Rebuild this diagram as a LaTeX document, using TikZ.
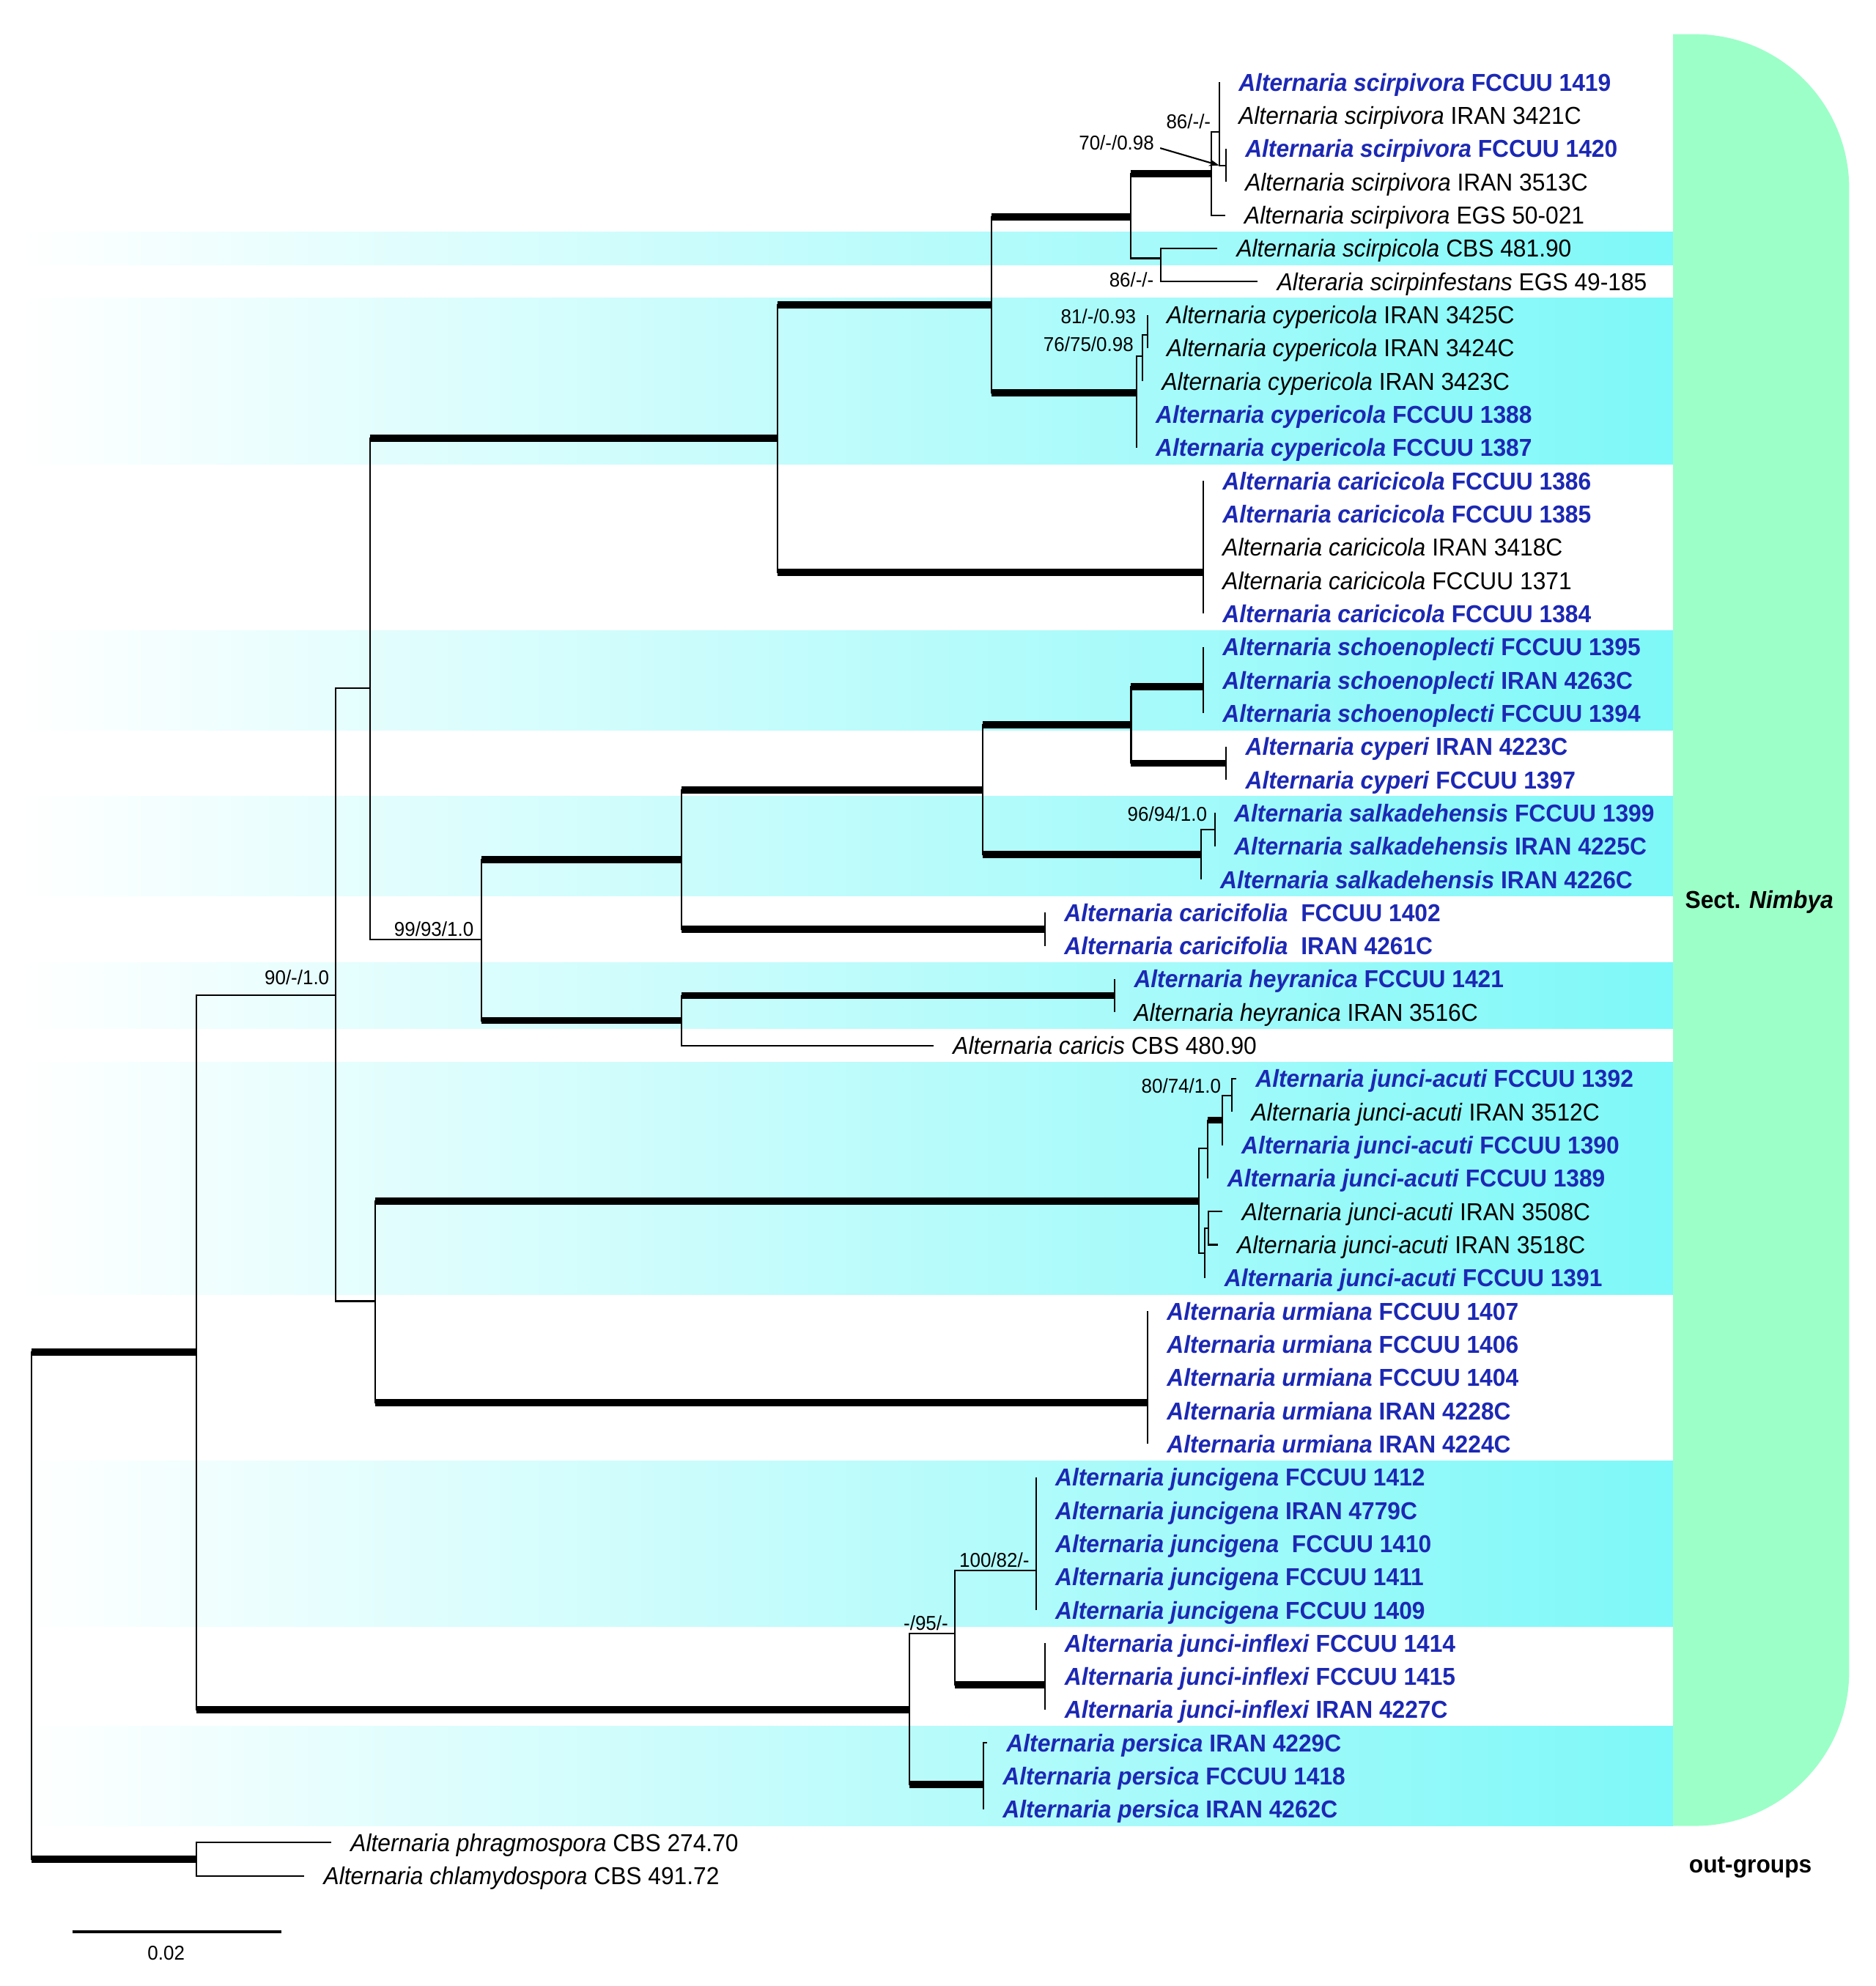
\documentclass[tikz,border=0pt]{standalone}
\usepackage{fontspec}
\setmainfont{Liberation Sans}[FakeStretch=0.95]
\usetikzlibrary{arrows.meta}

\definecolor{taxblue}{HTML}{1C28B4}
\definecolor{bandcyan}{HTML}{7EF8F8}
\definecolor{sectgreen}{HTML}{9CFFC8}

\newcommand{\alsp}[2]{\textit{Alternaria #1} #2}

\tikzset{
  br/.style={line width=0.7pt},
  thk/.style={line width=3.2pt},
  leaf/.style={anchor=west, inner xsep=3mm, inner ysep=0pt, text height=7.9pt, text depth=0pt, font=\fontsize{11}{13}\selectfont},
  novel/.style={leaf, text=taxblue, font=\fontsize{11}{13}\selectfont\bfseries},
  bs/.style={inner sep=1pt, font=\fontsize{9}{11}\selectfont},
  band/.style={left color=white, middle color=bandcyan!25, right color=bandcyan},
}

\begin{document}
\begin{tikzpicture}[x=0.2mm,y=-5.244mm]
\useasboundingbox (0,-1.479) rectangle (1481,58.32);

% bands
\shade[band] (15,5.5) rectangle (1321,6.5);
\shade[band] (15,7.5) rectangle (1321,12.5);
\shade[band] (15,17.5) rectangle (1321,20.5);
\shade[band] (15,22.5) rectangle (1321,25.5);
\shade[band] (15,27.5) rectangle (1321,29.5);
\shade[band] (15,30.5) rectangle (1321,37.5);
\shade[band] (15,42.5) rectangle (1321,47.5);
\shade[band] (15,50.5) rectangle (1321,53.5);

\begin{scope}
\clip (1321,-2) rectangle (1481,55);
\fill[sectgreen, rounded corners=24.4mm] (1150,-0.45) rectangle (1460,53.5);
\end{scope}

\node[font=\fontsize{11}{13}\selectfont\bfseries] (sect) at (1389,25.68) {Sect. \textit{Nimbya}};
\node[font=\fontsize{11}{13}\selectfont\bfseries] (outg) at (1382,54.74) {out-groups};

% inner nodes
\coordinate (root) at (25,46.87);
\coordinate (inn) at (155,39.24);
\coordinate (og) at (155,54.5);
\coordinate (mid) at (265,28.48);
\coordinate (jp) at (718,50);
\coordinate (up) at (292,19.25);
\coordinate (lo) at (296,37.7);
\coordinate (cl) at (614,11.72);
\coordinate (ms) at (380,26.8);
\coordinate (cs) at (783,7.7);
\coordinate (cc) at (950,15.75);
\coordinate (s0) at (892.5,5.05);
\coordinate (s1) at (956.2,3.75);
\coordinate (s2) at (962.6,2.5);
\coordinate (s3) at (967.8,3.5);
\coordinate (sc) at (916.7,6.3);
\coordinate (cy1) at (897.2,10.35);
\coordinate (cy2) at (902,9.25);
\coordinate (cy3) at (905.8,8.6);
\coordinate (sy) at (538,24.4);
\coordinate (hc) at (538,29.25);
\coordinate (sx) at (776,22.3);
\coordinate (cf) at (825,26.5);
\coordinate (sc2) at (893,20.35);
\coordinate (sch) at (950,19.2);
\coordinate (cyp) at (968,21.5);
\coordinate (sk1) at (948.1,24.25);
\coordinate (sk2) at (959.1,23.5);
\coordinate (hy) at (880,28.5);
\coordinate (ja1) at (946.6,34.68);
\coordinate (ja2) at (953.7,33.1);
\coordinate (ja3) at (964.9,32.25);
\coordinate (ja4) at (972.6,31.5);
\coordinate (ja5) at (951.4,36.25);
\coordinate (ja6) at (954.3,35.5);
\coordinate (ur) at (906,40.75);
\coordinate (jj) at (753.9,47.7);
\coordinate (jg) at (817.9,45.8);
\coordinate (ji) at (825.3,49.25);
\coordinate (pe) at (776.4,52.25);

% taxa
\node[novel] (l1) at (962.6,1) {\alsp{scirpivora}{FCCUU 1419}};
\node[leaf] (l2) at (962.6,2) {\alsp{scirpivora}{IRAN 3421C}};
\node[novel] (l3) at (967.8,3) {\alsp{scirpivora}{FCCUU 1420}};
\node[leaf] (l4) at (967.8,4) {\alsp{scirpivora}{IRAN 3513C}};
\node[leaf] (l5) at (967.2,5) {\alsp{scirpivora}{EGS 50-021}};
\node[leaf] (l6) at (961,6) {\alsp{scirpicola}{CBS 481.90}};
\node[leaf] (l7) at (993,7) {\textit{Alteraria scirpinfestans} EGS 49-185};
\node[leaf] (l8) at (905.8,8) {\alsp{cypericola}{IRAN 3425C}};
\node[leaf] (l9) at (905.8,9) {\alsp{cypericola}{IRAN 3424C}};
\node[leaf] (l10) at (902,10) {\alsp{cypericola}{IRAN 3423C}};
\node[novel] (l11) at (897.2,11) {\alsp{cypericola}{FCCUU 1388}};
\node[novel] (l12) at (897.2,12) {\alsp{cypericola}{FCCUU 1387}};
\node[novel] (l13) at (950,13) {\alsp{caricicola}{FCCUU 1386}};
\node[novel] (l14) at (950,14) {\alsp{caricicola}{FCCUU 1385}};
\node[leaf] (l15) at (950,15) {\alsp{caricicola}{IRAN 3418C}};
\node[leaf] (l16) at (950,16) {\alsp{caricicola}{FCCUU 1371}};
\node[novel] (l17) at (950,17) {\alsp{caricicola}{FCCUU 1384}};
\node[novel] (l18) at (950,18) {\alsp{schoenoplecti}{FCCUU 1395}};
\node[novel] (l19) at (950,19) {\alsp{schoenoplecti}{IRAN 4263C}};
\node[novel] (l20) at (950,20) {\alsp{schoenoplecti}{FCCUU 1394}};
\node[novel] (l21) at (968,21) {\alsp{cyperi}{IRAN 4223C}};
\node[novel] (l22) at (968,22) {\alsp{cyperi}{FCCUU 1397}};
\node[novel] (l23) at (959.1,23) {\alsp{salkadehensis}{FCCUU 1399}};
\node[novel] (l24) at (959.1,24) {\alsp{salkadehensis}{IRAN 4225C}};
\node[novel] (l25) at (948.1,25) {\alsp{salkadehensis}{IRAN 4226C}};
\node[novel] (l26) at (825,26) {\alsp{caricifolia}{~FCCUU 1402}};
\node[novel] (l27) at (825,27) {\alsp{caricifolia}{~IRAN 4261C}};
\node[novel] (l28) at (880,28) {\alsp{heyranica}{FCCUU 1421}};
\node[leaf] (l29) at (880,29) {\alsp{heyranica}{IRAN 3516C}};
\node[leaf] (l30) at (737,30) {\alsp{caricis}{CBS 480.90}};
\node[novel] (l31) at (976,31) {\alsp{junci-acuti}{FCCUU 1392}};
\node[leaf] (l32) at (972.6,32) {\alsp{junci-acuti}{IRAN 3512C}};
\node[novel] (l33) at (964.9,33) {\alsp{junci-acuti}{FCCUU 1390}};
\node[novel] (l34) at (953.7,34) {\alsp{junci-acuti}{FCCUU 1389}};
\node[leaf] (l35) at (965.3,35) {\alsp{junci-acuti}{IRAN 3508C}};
\node[leaf] (l36) at (961.4,36) {\alsp{junci-acuti}{IRAN 3518C}};
\node[novel] (l37) at (951.4,37) {\alsp{junci-acuti}{FCCUU 1391}};
\node[novel] (l38) at (906,38) {\alsp{urmiana}{FCCUU 1407}};
\node[novel] (l39) at (906,39) {\alsp{urmiana}{FCCUU 1406}};
\node[novel] (l40) at (906,40) {\alsp{urmiana}{FCCUU 1404}};
\node[novel] (l41) at (906,41) {\alsp{urmiana}{IRAN 4228C}};
\node[novel] (l42) at (906,42) {\alsp{urmiana}{IRAN 4224C}};
\node[novel] (l43) at (817.9,43) {\alsp{juncigena}{FCCUU 1412}};
\node[novel] (l44) at (817.9,44) {\alsp{juncigena}{IRAN 4779C}};
\node[novel] (l45) at (817.9,45) {\alsp{juncigena}{~FCCUU 1410}};
\node[novel] (l46) at (817.9,46) {\alsp{juncigena}{FCCUU 1411}};
\node[novel] (l47) at (817.9,47) {\alsp{juncigena}{FCCUU 1409}};
\node[novel] (l48) at (825.3,48) {\alsp{junci-inflexi}{FCCUU 1414}};
\node[novel] (l49) at (825.3,49) {\alsp{junci-inflexi}{FCCUU 1415}};
\node[novel] (l50) at (825.3,50) {\alsp{junci-inflexi}{IRAN 4227C}};
\node[novel] (l51) at (779.3,51) {\alsp{persica}{IRAN 4229C}};
\node[novel] (l52) at (776.4,52) {\alsp{persica}{FCCUU 1418}};
\node[novel] (l53) at (776.4,53) {\alsp{persica}{IRAN 4262C}};
\node[leaf] (l54) at (261.4,54) {\alsp{phragmospora}{CBS 274.70}};
\node[leaf] (l55) at (240.2,55) {\alsp{chlamydospora}{CBS 491.72}};

% branches
\draw[br] (root) |- (inn) (root) |- (og);
\draw[thk] (root |- inn) -- (inn);
\draw[thk] (root |- og) -- (og);
\draw[br] (og) |- (l54.west) (og) |- (l55.west);
\draw[br] (inn) |- (mid) (inn) |- (jp);
\draw[thk] (inn |- jp) -- (jp);
\draw[br] (mid) |- (up) (mid) |- (lo);

\draw[br] (up) |- (cl) (up) |- (ms);
\draw[thk] (up |- cl) -- (cl);
\draw[br] (cl) |- (cs) (cl) |- (cc);
\draw[thk] (cl |- cs) -- (cs);
\draw[thk] (cl |- cc) -- (cc);
\draw[br] (cs) |- (s0) (cs) |- (cy1);
\draw[thk] (cs |- s0) -- (s0);
\draw[thk] (cs |- cy1) -- (cy1);
\draw[br] (s0) |- (s1) (s0) |- (sc);
\draw[thk] (s0 |- s1) -- (s1);
\draw[br] (s1) |- (s2) (s1) |- (l5.west);
\draw[br] (s2) |- (l1.west) (s2) |- (l2.west) (s2) |- (s3);
\draw[br] (s3) |- (l3.west) (s3) |- (l4.west);
\draw[br] (sc) |- (l6.west) (sc) |- (l7.west);
\draw[br] (cy1) |- (cy2) (cy1) |- (l11.west) (cy1) |- (l12.west);
\draw[br] (cy2) |- (cy3) (cy2) |- (l10.west);
\draw[br] (cy3) |- (l8.west) (cy3) |- (l9.west);
\draw[br] (cc) |- (l13.west) (cc) |- (l14.west) (cc) |- (l15.west) (cc) |- (l16.west) (cc) |- (l17.west);

\draw[br] (ms) |- (sy) (ms) |- (hc);
\draw[thk] (ms |- sy) -- (sy);
\draw[thk] (ms |- hc) -- (hc);
\draw[br] (sy) |- (sx) (sy) |- (cf);
\draw[thk] (sy |- sx) -- (sx);
\draw[thk] (sy |- cf) -- (cf);
\draw[br] (sx) |- (sc2) (sx) |- (sk1);
\draw[thk] (sx |- sc2) -- (sc2);
\draw[thk] (sx |- sk1) -- (sk1);
\draw[br] (sc2) |- (sch) (sc2) |- (cyp);
\draw[thk] (sc2 |- sch) -- (sch);
\draw[thk] (sc2 |- cyp) -- (cyp);
\draw[br] (sch) |- (l18.west) (sch) |- (l19.west) (sch) |- (l20.west);
\draw[br] (cyp) |- (l21.west) (cyp) |- (l22.west);
\draw[br] (sk1) |- (sk2) (sk1) |- (l25.west);
\draw[br] (sk2) |- (l23.west) (sk2) |- (l24.west);
\draw[br] (cf) |- (l26.west) (cf) |- (l27.west);
\draw[br] (hc) |- (hy) (hc) |- (l30.west);
\draw[thk] (hc |- hy) -- (hy);
\draw[br] (hy) |- (l28.west) (hy) |- (l29.west);

\draw[br] (lo) |- (ja1) (lo) |- (ur);
\draw[thk] (lo |- ja1) -- (ja1);
\draw[thk] (lo |- ur) -- (ur);
\draw[br] (ja1) |- (ja2) (ja1) |- (ja5);
\draw[br] (ja2) |- (ja3) (ja2) |- (l34.west);
\draw[thk] (ja2 |- ja3) -- (ja3);
\draw[br] (ja3) |- (ja4) (ja3) |- (l33.west);
\draw[br] (ja4) |- (l31.west) (ja4) |- (l32.west);
\draw[br] (ja5) |- (ja6) (ja5) |- (l37.west);
\draw[br] (ja6) |- (l35.west) (ja6) |- (l36.west);
\draw[br] (ur) |- (l38.west) (ur) |- (l39.west) (ur) |- (l40.west) (ur) |- (l41.west) (ur) |- (l42.west);

\draw[br] (jp) |- (jj) (jp) |- (pe);
\draw[thk] (jp |- pe) -- (pe);
\draw[br] (jj) |- (jg) (jj) |- (ji);
\draw[thk] (jj |- ji) -- (ji);
\draw[br] (jg) |- (l43.west) (jg) |- (l44.west) (jg) |- (l45.west) (jg) |- (l46.west) (jg) |- (l47.west);
\draw[br] (ji) |- (l48.west) (ji) |- (l49.west) (ji) |- (l50.west);
\draw[br] (pe) |- (l51.west) (pe) |- (l52.west) (pe) |- (l53.west);

% support values
\node[bs, anchor=south east] (b86a) at (958,2.47) {86/-/-};
\node[bs] (b70) at (881.5,2.82) {70/-/0.98};
\coordinate (a70) at (916,2.98);
\draw[br, -{Stealth[length=1.6mm,width=1.1mm]}] (a70) -- (s2 |- s3);
\node[bs, anchor=east] (b86b) at (913,6.94) {86/-/-};
\node[bs, anchor=east] (b81) at (899,8.05) {81/-/0.93};
\node[bs, anchor=east] (b76) at (897,8.89) {76/75/0.98};
\node[bs, anchor=east] (b96) at (955,23.04) {96/94/1.0};
\node[bs, anchor=south east] (b99) at (376,26.8) {99/93/1.0};
\node[bs, anchor=south east] (b90) at (262,28.25) {90/-/1.0};
\node[bs, anchor=east] (b80) at (966,31.21) {80/74/1.0};
\node[bs, anchor=south] (b100) at (785,45.8) {100/82/-};
\node[bs, anchor=south] (b95) at (731,47.7) {-/95/-};

% scale bar
\coordinate (sb1) at (57,56.68);
\coordinate (sb2) at (222,56.68);
\draw[line width=1.3pt] (sb1) -- (sb2);
\node[bs] (sbl) at (131.2,57.32) {0.02};

\end{tikzpicture}
\end{document}
